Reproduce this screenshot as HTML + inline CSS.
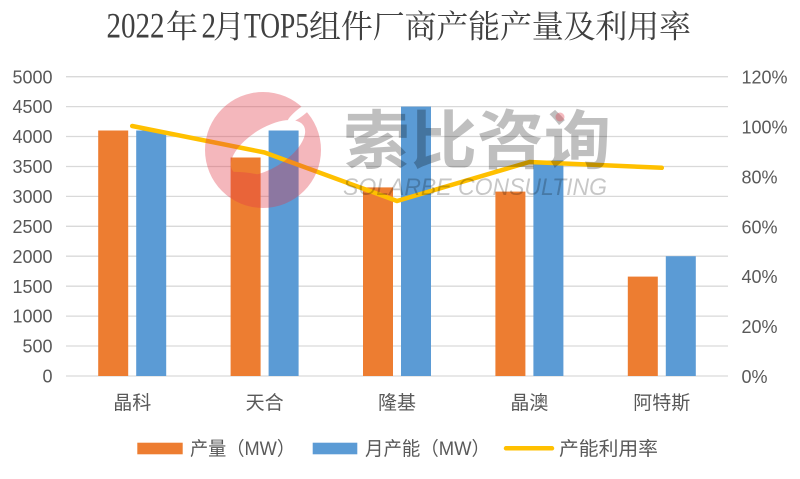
<!DOCTYPE html>
<html><head><meta charset="utf-8"><style>
html,body{margin:0;padding:0;background:#fff;}
svg{display:block;}
.ax{font-family:"Liberation Sans","Noto Sans CJK SC",sans-serif;font-size:18px;fill:#595959;}
.cj{font-family:"Liberation Sans","Noto Sans CJK SC",sans-serif;font-size:19px;fill:#595959;}
.tl{font-family:"Liberation Serif","Noto Serif CJK SC",serif;fill:#404040;}
.tc{font-family:"Noto Serif CJK SC","Liberation Serif",serif;fill:#404040;font-size:32px;}
</style></head><body>
<svg width="800" height="479" viewBox="0 0 800 479" xmlns="http://www.w3.org/2000/svg">
<rect width="800" height="479" fill="#fff"/>
<!-- title -->
<text class="tl" x="106.5" y="37.5" font-size="36" textLength="58" lengthAdjust="spacingAndGlyphs">2022</text>
<text class="tc" x="166" y="37.5">年</text>
<text class="tl" x="201.5" y="37.5" font-size="36" textLength="14.5" lengthAdjust="spacingAndGlyphs">2</text>
<text class="tc" x="213" y="37.5">月</text>
<text class="tl" x="244" y="37.5" font-size="36" textLength="65" lengthAdjust="spacingAndGlyphs">TOP5</text>
<text class="tc" x="309" y="37.5" textLength="382" lengthAdjust="spacing">组件厂商产能产量及利用率</text>

<!-- gridlines -->
<g stroke="#D9D9D9" stroke-width="1.3">
<line x1="66" y1="76.7" x2="728" y2="76.7"/>
<line x1="66" y1="106.6" x2="728" y2="106.6"/>
<line x1="66" y1="136.5" x2="728" y2="136.5"/>
<line x1="66" y1="166.5" x2="728" y2="166.5"/>
<line x1="66" y1="196.4" x2="728" y2="196.4"/>
<line x1="66" y1="226.3" x2="728" y2="226.3"/>
<line x1="66" y1="256.2" x2="728" y2="256.2"/>
<line x1="66" y1="286.2" x2="728" y2="286.2"/>
<line x1="66" y1="316.1" x2="728" y2="316.1"/>
<line x1="66" y1="346" x2="728" y2="346"/>
<line x1="66" y1="376" x2="728" y2="376"/>
</g>

<!-- left axis labels -->
<g class="ax" text-anchor="end">
<text x="52.5" y="83.3">5000</text>
<text x="52.5" y="113.2">4500</text>
<text x="52.5" y="143.1">4000</text>
<text x="52.5" y="173.1">3500</text>
<text x="52.5" y="203">3000</text>
<text x="52.5" y="232.9">2500</text>
<text x="52.5" y="262.8">2000</text>
<text x="52.5" y="292.8">1500</text>
<text x="52.5" y="322.7">1000</text>
<text x="52.5" y="352.6">500</text>
<text x="52.5" y="382.6">0</text>
</g>
<!-- right axis labels -->
<g class="ax">
<text x="741.5" y="83.6">120%</text>
<text x="741.5" y="133.5">100%</text>
<text x="741.5" y="183.4">80%</text>
<text x="741.5" y="233.3">60%</text>
<text x="741.5" y="283.2">40%</text>
<text x="741.5" y="333.1">20%</text>
<text x="741.5" y="383">0%</text>
</g>

<!-- bars -->
<g fill="#ED7D31">
<rect x="98.2" y="130.5" width="30" height="245.5"/>
<rect x="230.6" y="157.5" width="30" height="218.5"/>
<rect x="363" y="187.4" width="30" height="188.6"/>
<rect x="495.4" y="191.6" width="30" height="184.4"/>
<rect x="627.8" y="276.6" width="30" height="99.4"/>
</g>
<g fill="#5B9BD5">
<rect x="136.2" y="130.5" width="30" height="245.5"/>
<rect x="268.6" y="130.5" width="30" height="245.5"/>
<rect x="401" y="106.6" width="30" height="269.4"/>
<rect x="533.4" y="160.5" width="30" height="215.5"/>
<rect x="665.8" y="256.2" width="30" height="119.8"/>
</g>

<!-- line -->
<polyline points="132.2,126 264.6,152.5 397,201 529.4,162 661.8,167.8" fill="none" stroke="#FFC000" stroke-width="4.5" stroke-linejoin="round" stroke-linecap="round"/>

<!-- category labels -->
<g class="cj" text-anchor="middle">
<text x="132.2" y="409">晶科</text>
<text x="264.6" y="409">天合</text>
<text x="397" y="409">隆基</text>
<text x="529.4" y="409">晶澳</text>
<text x="661.8" y="409">阿特斯</text>
</g>

<!-- watermark -->
<defs>
<mask id="lm">
<rect x="150" y="60" width="250" height="200" fill="#fff"/>
<ellipse cx="268" cy="148" rx="42" ry="20" transform="rotate(-32 268 148)" fill="#000"/>
<ellipse cx="301" cy="112" rx="17" ry="4" transform="rotate(-38 301 112)" fill="#000"/>
</mask>
</defs>
<g opacity="0.36">
<circle cx="263" cy="150" r="58" fill="#E23A48" mask="url(#lm)"/>
<path d="M214,176 Q240,172 262,178" stroke="#E23A48" stroke-width="5" fill="none"/>
</g>
<text x="343" y="163.5" font-family="Noto Sans CJK SC, sans-serif" font-weight="700" font-size="64" textLength="268" lengthAdjust="spacingAndGlyphs" fill="#000" fill-opacity="0.25">索比咨询</text>
<circle cx="560" cy="117" r="4.5" fill="#E23A48" fill-opacity="0.35"/>
<text x="343" y="195" font-family="Liberation Sans, sans-serif" font-style="italic" font-size="24" textLength="264" lengthAdjust="spacingAndGlyphs" fill="#000" fill-opacity="0.22">SOLARBE CONSULTING</text>

<!-- legend -->
<rect x="137.3" y="442.7" width="45.4" height="11.6" fill="#ED7D31"/>
<text class="cj" x="190" y="455" textLength="105" lengthAdjust="spacingAndGlyphs">产量（MW）</text>
<rect x="312.7" y="442.7" width="44.6" height="11.6" fill="#5B9BD5"/>
<text class="cj" x="365" y="455" textLength="125" lengthAdjust="spacingAndGlyphs">月产能（MW）</text>
<line x1="506" y1="448.3" x2="552" y2="448.3" stroke="#FFC000" stroke-width="4.5" stroke-linecap="round"/>
<text class="cj" x="559" y="455" textLength="99" lengthAdjust="spacingAndGlyphs">产能利用率</text>
</svg>
</body></html>
